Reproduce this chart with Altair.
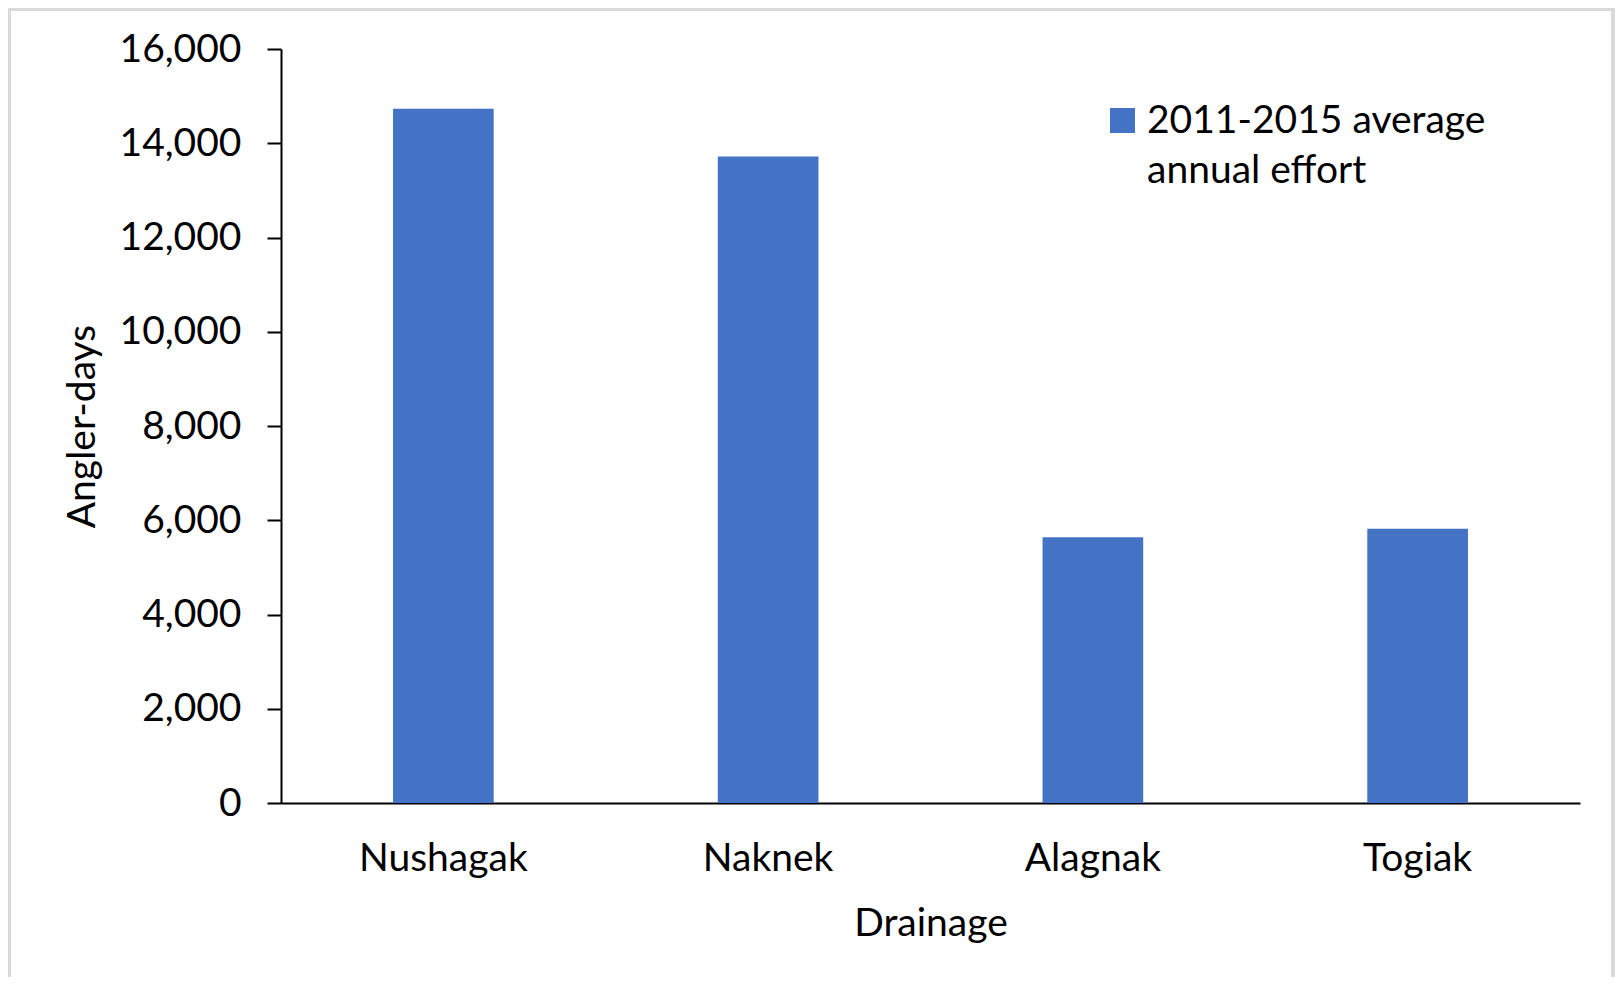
import altair as alt
import pandas as pd

drainages = ["Nushagak", "Naknek", "Alagnak", "Togiak"]
effort = [14730, 13720, 5640, 5820]
series_name = "2011-2015 average\nannual effort"
y_ticks = [0, 2000, 4000, 6000, 8000, 10000, 12000, 14000, 16000]

df = pd.DataFrame({"Drainage": drainages, "Effort": effort, "Series": [series_name] * len(drainages)})

FONT = "Lato"
FS = 39
BLUE = "#4472C4"
GRAY = "#D9D9D9"

bars = alt.Chart(df).mark_bar(color=BLUE).encode(
    x=alt.X(
        "Drainage:N",
        sort=drainages,
        scale=alt.Scale(paddingInner=0.69, paddingOuter=0.345),
        axis=alt.Axis(
            title="Drainage",
            labelAngle=0,
            ticks=False,
            domainColor="black",
            domainWidth=2,
            labelPadding=36,
            titlePadding=26,
        ),
    ),
    y=alt.Y(
        "Effort:Q",
        scale=alt.Scale(domain=[0, 16000], nice=False),
        axis=alt.Axis(
            title="Angler-days",
            values=y_ticks,
            format=",.0f",
            grid=False,
            domainColor="black",
            domainWidth=2,
            tickColor="black",
            tickWidth=2,
            tickSize=14,
            labelPadding=26,
            titlePadding=17,
        ),
    ),
    color=alt.Color(
        "Series:N",
        scale=alt.Scale(range=[BLUE]),
        legend=alt.Legend(
            title=None,
            orient="none",
            legendX=822,
            legendY=52,
            padding=0,
            symbolType="square",
            symbolSize=625,
            symbolStrokeWidth=0,
            labelOffset=5,
            labelLimit=1000,
            labelExpr="split(datum.label, '\\n')",
        ),
    ),
)

frame_df = pd.DataFrame({"k": [0]})
left_edge = alt.Chart(frame_df).mark_rect(color=GRAY).encode(
    x=alt.value(-273), x2=alt.value(-270), y=alt.value(-41), y2=alt.value(928)
)
right_edge = alt.Chart(frame_df).mark_rect(color=GRAY).encode(
    x=alt.value(1330), x2=alt.value(1334), y=alt.value(-41), y2=alt.value(928)
)
top_edge = alt.Chart(frame_df).mark_rect(color=GRAY).encode(
    x=alt.value(-273), x2=alt.value(1334), y=alt.value(-41), y2=alt.value(-38)
)

chart = alt.layer(left_edge, right_edge, top_edge, bars).properties(
    width=1299,
    height=754,
    autosize=alt.AutoSizeParams(type="none"),
    padding={"left": 273, "top": 41, "right": 35, "bottom": 174},
).configure(
    font=FONT,
    style={"guide-label": {"lineHeight": 50}},
).configure_view(
    stroke=None
).configure_axis(
    labelFont=FONT,
    labelFontSize=FS,
    labelColor="black",
    titleFont=FONT,
    titleFontSize=FS,
    titleFontWeight="normal",
    titleColor="black",
).configure_legend(
    labelFont=FONT,
    labelFontSize=FS,
    labelColor="black",
)

chart.save("out.html", embed_options={"renderer": "svg", "actions": False})
